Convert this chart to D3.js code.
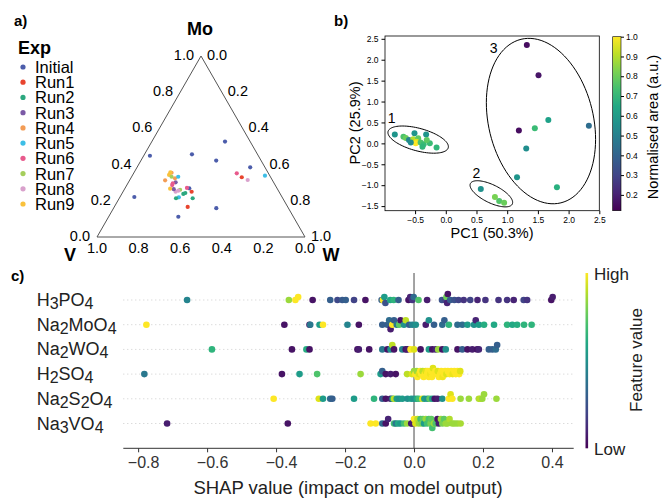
<!DOCTYPE html>
<html>
<head>
<meta charset="utf-8">
<script src="https://cdn.jsdelivr.net/npm/d3@7"></script>
<style>
  body { margin: 0; background: #fff; }
  text { font-family: "Liberation Sans", Arial, sans-serif; }
</style>
</head>
<body>
<div id="chart"></div>
<script>
// ---- data ----
const expNames = ['Initial', 'Run1', 'Run2', 'Run3', 'Run4', 'Run5', 'Run6', 'Run7', 'Run8', 'Run9']
const expColors = ['#4c5dab', '#e8442e', '#2ca87f', '#7b5aa6', '#f39c55', '#3dbee6', '#e85a8c', '#a5ce5c', '#d9a1cc', '#f9c13c']

// [experiment, Mo fraction, W fraction]  (V = 1 - Mo - W)
const ternaryPoints = [
  ['Initial', 0.527, 0.352], ['Initial', 0.449, 0.030], ['Initial', 0.457, 0.228], ['Initial', 0.422, 0.362],
  ['Initial', 0.385, 0.544], ['Initial', 0.221, 0.069], ['Initial', 0.159, 0.494], ['Initial', 0.112, 0.335],
  ['Initial', 0.269, 0.309],
  ['Run6', 0.352, 0.496], ['Run1', 0.330, 0.531], ['Run8', 0.315, 0.567], ['Run5', 0.339, 0.638],
  ['Run1', 0.166, 0.353], ['Run2', 0.214, 0.353], ['Run1', 0.250, 0.330], ['Run6', 0.271, 0.297],
  ['Run2', 0.238, 0.296], ['Run2', 0.243, 0.303], ['Run5', 0.219, 0.284], ['Run2', 0.214, 0.273],
  ['Run7', 0.261, 0.269], ['Run8', 0.256, 0.263], ['Run8', 0.250, 0.253], ['Run3', 0.264, 0.237],
  ['Run9', 0.267, 0.218], ['Run6', 0.287, 0.218], ['Run3', 0.302, 0.227], ['Run4', 0.324, 0.213],
  ['Run5', 0.333, 0.224], ['Run4', 0.355, 0.181], ['Run9', 0.343, 0.175], ['Run7', 0.333, 0.192],
  ['Run4', 0.313, 0.171], ['Run6', 0.297, 0.216], ['Run9', 0.357, 0.174]
]
const ternaryTicks = [0, 0.2, 0.4, 0.6, 0.8, 1.0]

// [PC1, PC2, normalised area]
const pcaPoints = [
  [1.32, 2.35, 0.15], [1.51, 1.63, 0.17], [1.67, 0.56, 0.62], [2.33, 0.42, 0.43], [1.45, 0.36, 0.72],
  [1.19, 0.31, 0.15], [1.31, -0.12, 0.55], [1.16, -0.81, 0.58], [1.81, -1.05, 0.68],
  [0.57, -1.09, 0.56], [0.80, -1.28, 0.82], [0.87, -1.38, 0.76], [0.95, -1.42, 0.80],
  [-0.83, 0.21, 0.58], [-0.51, 0.24, 0.58], [-0.32, 0.21, 0.58], [-0.69, 0.16, 0.75], [-0.65, 0.13, 0.80],
  [-0.60, 0.08, 0.52], [-0.53, 0.10, 0.90], [-0.45, 0.12, 0.78], [-0.48, 0.04, 0.95], [-0.49, 0.00, 1.0],
  [-0.41, 0.02, 0.75], [-0.36, -0.02, 0.72], [-0.38, -0.08, 0.70], [-0.26, 0.00, 0.72], [-0.15, -0.10, 0.70],
  [-0.57, 0.02, 0.55], [-0.31, 0.08, 0.78]
]
const pcaXTicks = [-0.5, 0.0, 0.5, 1.0, 1.5, 2.0, 2.5]
const pcaYTicks = [-1.5, -1.0, -0.5, 0.0, 0.5, 1.0, 1.5, 2.0, 2.5]
const areaTicks = [0.2, 0.3, 0.4, 0.5, 0.6, 0.7, 0.8, 0.9, 1.0]
// cluster ellipses: centre, major half-axis vector, minor half-axis vector (data units)
const clusterEllipses = [
  { label: '1', cx: -0.45, cy: 0.09, ux: 0.49, uy: -0.195, vx: -0.048, vy: -0.26, lx: -0.88, ly: 0.6 },
  { label: '2', cx: 0.742, cy: -1.206, ux: 0.341, uy: -0.246, vx: -0.064, vy: -0.193, lx: 0.5, ly: -0.72 },
  { label: '3', cx: 1.55, cy: 0.533, ux: 0.325, uy: -1.955, vx: -0.828, vy: -0.299, lx: 0.78, ly: 2.28 }
]

// SHAP rows: [shap value, feature value]
const features = ['H3PO4', 'Na2MoO4', 'Na2WO4', 'H2SO4', 'Na2S2O4', 'Na3VO4']
const shapH3PO4 = [[-0.658, 0.45], [-0.363, 0.85], [-0.344, 1.0], [-0.336, 1.0], [-0.294, 0.05], [-0.243, 0.3],
  [-0.222, 0.22], [-0.208, 0.28], [-0.198, 0.3], [-0.174, 0.2], [-0.141, 0.05], [-0.094, 0.3], [-0.090, 1.0],
  [-0.086, 0.55], [-0.083, 0.25], [-0.069, 0.6], [-0.059, 0.65], [-0.045, 0.3], [-0.016, 0.05], [-0.011, 0.1],
  [-0.005, 0.15], [-0.001, 0.35], [0.013, 0.72], [0.038, 0.08], [0.081, 0.25], [0.091, 0.2], [0.094, 0.78],
  [0.096, 0.1], [0.098, 0.05], [0.105, 0.3], [0.117, 0.25], [0.129, 0.2], [0.144, 0.15], [0.163, 0.2],
  [0.184, 0.1], [0.207, 0.15], [0.245, 0.15], [0.270, 0.15], [0.289, 0.1], [0.318, 0.2], [0.328, 0.15],
  [0.398, 0.05], [0.402, 0.08]]
const shapNa2MoO4 = [[-0.776, 1.0], [-0.376, 0.05], [-0.303, 0.05], [-0.301, 0.4], [-0.274, 0.55], [-0.264, 1.0],
  [-0.193, 0.45], [-0.160, 0.05], [-0.092, 0.3], [-0.077, 0.3], [-0.072, 0.35], [-0.068, 0.08], [-0.063, 1.0],
  [-0.058, 0.3], [-0.050, 0.4], [-0.043, 0.75], [-0.039, 0.05], [-0.029, 0.5], [-0.024, 0.9], [-0.014, 0.3],
  [-0.005, 0.45], [0.005, 0.5], [0.034, 0.08], [0.043, 0.5], [0.058, 0.3], [0.082, 0.35], [0.088, 0.3],
  [0.101, 0.65], [0.126, 0.35], [0.140, 0.35], [0.155, 0.55], [0.174, 0.5], [0.179, 0.1], [0.188, 0.55],
  [0.203, 0.62], [0.232, 0.6], [0.270, 0.65], [0.285, 0.6], [0.299, 0.62], [0.319, 0.65], [0.341, 0.65]]
const shapNa2WO4 = [[-0.586, 0.65], [-0.354, 0.05], [-0.312, 0.62], [-0.303, 0.05], [-0.164, 0.05], [-0.160, 0.08],
  [-0.130, 0.05], [-0.092, 0.4], [-0.077, 0.05], [-0.068, 0.5], [-0.063, 0.9], [-0.058, 0.05], [-0.034, 0.45],
  [-0.024, 0.05], [-0.019, 0.08], [-0.010, 1.0], [0.000, 0.95], [0.019, 0.05], [0.043, 0.55], [0.053, 0.05],
  [0.063, 0.1], [0.070, 0.85], [0.082, 0.05], [0.092, 0.5], [0.126, 0.05], [0.140, 0.3], [0.155, 0.05],
  [0.169, 0.08], [0.183, 0.05], [0.188, 0.1], [0.217, 0.3], [0.227, 0.3], [0.237, 0.35], [0.241, 0.3]]
const shapH2SO4 = [[-0.782, 0.4], [-0.383, 0.05], [-0.332, 0.55], [-0.281, 0.72], [-0.155, 0.85], [-0.097, 0.55],
  [-0.092, 0.3], [-0.082, 0.05], [-0.068, 0.08], [-0.053, 0.05], [-0.020, 0.9], [-0.006, 0.95], [0.000, 0.85],
  [0.004, 1.0], [0.008, 0.85], [0.010, 1.0], [0.014, 0.95], [0.018, 1.0], [0.021, 1.0], [0.025, 0.9],
  [0.028, 1.0], [0.031, 1.0], [0.034, 0.95], [0.038, 1.0], [0.040, 1.0], [0.043, 1.0], [0.047, 0.98],
  [0.050, 1.0], [0.052, 1.0], [0.055, 0.95], [0.059, 1.0], [0.062, 1.0], [0.066, 1.0], [0.069, 0.95],
  [0.072, 1.0], [0.076, 1.0], [0.079, 1.0], [0.083, 0.98], [0.087, 1.0], [0.090, 1.0], [0.094, 0.95],
  [0.098, 1.0], [0.103, 1.0], [0.108, 1.0], [0.112, 0.97], [0.117, 1.0], [0.121, 1.0], [0.126, 1.0],
  [0.131, 1.0], [0.134, 0.95]]
const shapNa2S2O4 = [[-0.407, 1.0], [-0.276, 0.95], [-0.264, 0.55], [-0.243, 0.35], [-0.237, 0.3], [-0.174, 0.55],
  [-0.116, 0.65], [-0.092, 0.3], [-0.082, 0.05], [-0.068, 0.08], [-0.062, 0.6], [-0.058, 0.9], [-0.050, 0.55],
  [-0.043, 0.5], [-0.034, 0.55], [-0.019, 0.5], [-0.008, 0.55], [0.000, 0.5], [0.008, 0.6], [0.014, 0.7],
  [0.024, 0.95], [0.030, 0.55], [0.039, 0.5], [0.045, 0.75], [0.053, 0.55], [0.060, 0.05], [0.068, 0.08],
  [0.082, 0.5], [0.101, 1.0], [0.106, 0.95], [0.111, 1.0], [0.135, 0.85], [0.159, 0.85], [0.188, 0.88],
  [0.193, 0.9], [0.198, 0.85], [0.203, 0.85], [0.239, 0.85]]
const shapNa3VO4 = [[-0.716, 0.08], [-0.366, 0.05], [-0.126, 1.0], [-0.111, 1.0], [-0.092, 0.35], [-0.082, 0.05],
  [-0.075, 0.1], [-0.058, 0.7], [-0.053, 0.4], [-0.046, 0.6], [-0.039, 0.55], [-0.029, 0.7], [-0.020, 0.85],
  [-0.008, 0.05], [-0.005, 0.08], [0.000, 1.0], [0.004, 0.95], [0.010, 0.9], [0.014, 0.85], [0.019, 0.7],
  [0.023, 0.8], [0.026, 0.75], [0.029, 0.55], [0.034, 0.85], [0.038, 0.7], [0.043, 0.72], [0.048, 0.8],
  [0.050, 0.75], [0.053, 0.7], [0.058, 0.85], [0.063, 0.72], [0.068, 0.05], [0.072, 0.08], [0.078, 0.85],
  [0.082, 0.8], [0.087, 0.75], [0.092, 0.85], [0.097, 0.85], [0.103, 0.88], [0.111, 0.85], [0.118, 0.85],
  [0.126, 0.85], [0.135, 0.87]]
const shapRows = [shapH3PO4, shapNa2MoO4, shapNa2WO4, shapH2SO4, shapNa2S2O4, shapNa3VO4]
const shapTicks = [-0.8, -0.6, -0.4, -0.2, 0.0, 0.2, 0.4]

// ---- chart ----
const width = 664
const height = 499

const svg = d3.select('#chart').append('svg')
  .attr('width', width)
  .attr('height', height)

svg.append('rect').attr('width', width).attr('height', height).attr('fill', '#fff')

const fmt1 = d3.format('.1f')

// ===== a) ternary =====
const ga = svg.append('g')
const tx = d3.scaleLinear().domain([0, 1]).range([97, 305])
const ty = d3.scaleLinear().domain([0, 1]).range([237, 56])
const tern = (mo, w) => [tx(w + mo / 2), ty(mo)]

ga.append('path')
  .attr('d', d3.line()([tern(1, 0), tern(0, 0), tern(0, 1)]) + 'Z')
  .attr('fill', 'none').attr('stroke', '#555').attr('stroke-width', 1)

// Mo ticks on left edge
ga.selectAll('.tl').data(ternaryTicks).enter().append('text')
  .attr('x', d => tern(d, 0)[0] - 7)
  .attr('y', d => tern(d, 0)[1] - 1)
  .attr('text-anchor', 'end').attr('dominant-baseline', 'central')
  .attr('font-size', 14.5).text(fmt1)
// W ticks on right edge
ga.selectAll('.tr').data(ternaryTicks).enter().append('text')
  .attr('x', d => tern(1 - d, d)[0] + 6)
  .attr('y', d => tern(1 - d, d)[1] - 1)
  .attr('dominant-baseline', 'central')
  .attr('font-size', 14.5).text(fmt1)
// V ticks on base
ga.selectAll('.tb').data(ternaryTicks).enter().append('text')
  .attr('x', d => tern(0, 1 - d)[0])
  .attr('y', d => tern(0, 1 - d)[1] + 16)
  .attr('text-anchor', 'middle')
  .attr('font-size', 14.5).text(fmt1)

ga.append('text').attr('x', 200).attr('y', 35).attr('text-anchor', 'middle')
  .attr('font-size', 18).attr('font-weight', 'bold').text('Mo')
ga.append('text').attr('x', 70).attr('y', 261).attr('text-anchor', 'middle')
  .attr('font-size', 18).attr('font-weight', 'bold').text('V')
ga.append('text').attr('x', 331).attr('y', 261).attr('text-anchor', 'middle')
  .attr('font-size', 18).attr('font-weight', 'bold').text('W')

const expColor = d3.scaleOrdinal().domain(expNames).range(expColors)

ga.selectAll('.tp').data(ternaryPoints).enter().append('circle')
  .attr('cx', d => tern(d[1], d[2])[0])
  .attr('cy', d => tern(d[1], d[2])[1])
  .attr('r', 2.1)
  .attr('fill', d => expColor(d[0]))

// legend
ga.append('text').attr('x', 18).attr('y', 54).attr('font-size', 18).attr('font-weight', 'bold').text('Exp')
const legY = d3.scalePoint().domain(expNames).range([67, 204])
const leg = ga.selectAll('.leg').data(expNames).enter().append('g')
  .attr('transform', d => `translate(0,${legY(d)})`)
leg.append('circle').attr('cx', 23).attr('cy', 0).attr('r', 2.6).attr('fill', d => expColor(d))
leg.append('text').attr('x', 35).attr('y', 0).attr('dominant-baseline', 'central')
  .attr('font-size', 16.5).text(d => d)

svg.append('text').attr('x', 14).attr('y', 26).attr('font-size', 15).attr('font-weight', 'bold').text('a)')

// ===== b) PCA =====
const gb = svg.append('g')
const px = d3.scaleLinear().domain([-0.99, 2.5]).range([385, 599.3])
const py = d3.scaleLinear().domain([-1.61, 2.567]).range([210.7, 36])
const areaScale = d3.scaleSequential(d3.interpolateViridis).domain([0.12, 1.0])

gb.append('g').attr('transform', 'translate(0,210.7)')
  .call(d3.axisBottom(px).tickValues(pcaXTicks).tickFormat(fmt1).tickSize(3.5).tickPadding(3))
  .call(g => g.select('.domain').remove())
  .selectAll('text').attr('font-family', 'DejaVu Sans').attr('font-size', 8.5).attr('fill', '#000')
gb.append('g').attr('transform', 'translate(385,0)')
  .call(d3.axisLeft(py).tickValues(pcaYTicks).tickFormat(fmt1).tickSize(3.5).tickPadding(3))
  .call(g => g.select('.domain').remove())
  .selectAll('text').attr('font-family', 'DejaVu Sans').attr('font-size', 8.5).attr('fill', '#000')

gb.selectAll('.pp').data(pcaPoints).enter().append('circle')
  .attr('cx', d => px(d[0]))
  .attr('cy', d => py(d[1]))
  .attr('r', 3)
  .attr('fill', d => areaScale(d[2]))

const ellLine = d3.line().x(d => px(d[0])).y(d => py(d[1]))
clusterEllipses.forEach(e => {
  const pts = d3.range(0, 101).map(i => {
    const t = i / 100 * 2 * Math.PI
    return [e.cx + e.ux * Math.cos(t) + e.vx * Math.sin(t), e.cy + e.uy * Math.cos(t) + e.vy * Math.sin(t)]
  })
  gb.append('path').attr('d', ellLine(pts)).attr('fill', 'none').attr('stroke', '#000').attr('stroke-width', 1)
  gb.append('text').attr('x', px(e.lx)).attr('y', py(e.ly)).attr('text-anchor', 'middle')
    .attr('dominant-baseline', 'central').attr('font-size', 14).text(e.label)
})

gb.append('rect').attr('x', 385).attr('y', 36).attr('width', 599.3 - 385).attr('height', 210.7 - 36)
  .attr('fill', 'none').attr('stroke', '#000').attr('stroke-width', 0.8)

gb.append('text').attr('x', 492).attr('y', 238).attr('text-anchor', 'middle').attr('font-size', 14.5).text('PC1 (50.3%)')
gb.append('text').attr('transform', 'translate(360,123) rotate(-90)').attr('text-anchor', 'middle')
  .attr('font-size', 14.5).text('PC2 (25.9%)')

// colorbar b
const defs = svg.append('defs')
const gradB = defs.append('linearGradient').attr('id', 'viridisV').attr('x1', 0).attr('y1', 1).attr('x2', 0).attr('y2', 0)
d3.range(0, 11).forEach(i => {
  gradB.append('stop').attr('offset', i / 10).attr('stop-color', d3.interpolateViridis(i / 10))
})
const cbY = d3.scaleLinear().domain([0.12, 1.0]).range([210.7, 36.7])
gb.append('rect').attr('x', 612.7).attr('y', 36.7).attr('width', 8.3).attr('height', 210.7 - 36.7)
  .attr('fill', 'url(#viridisV)').attr('stroke', '#000').attr('stroke-width', 0.6)
gb.append('g').attr('transform', 'translate(621,0)')
  .call(d3.axisRight(cbY).tickValues(areaTicks).tickFormat(fmt1).tickSize(3).tickPadding(2))
  .call(g => g.select('.domain').remove())
  .selectAll('text').attr('font-family', 'DejaVu Sans').attr('font-size', 8.5).attr('fill', '#000')
gb.append('text').attr('transform', 'translate(658,127) rotate(-90)').attr('text-anchor', 'middle')
  .attr('font-size', 14.5).text('Normalised area (a.u.)')

svg.append('text').attr('x', 334).attr('y', 26).attr('font-size', 15).attr('font-weight', 'bold').text('b)')

// ===== c) SHAP summary =====
const gc = svg.append('g')
const sx = d3.scaleLinear().domain([-0.843, 0.463]).range([123.3, 573.7])
const sy = d3.scalePoint().domain(features).range([300, 423.5])
const rowStep = sy.step()
const featColor = d3.scaleSequential(d3.interpolateViridis).domain([0, 1])

// dotted row guides
gc.selectAll('.grid').data(features).enter().append('line')
  .attr('x1', 123.3).attr('x2', 573.7)
  .attr('y1', d => sy(d)).attr('y2', d => sy(d))
  .attr('stroke', '#ccc').attr('stroke-width', 1).attr('stroke-dasharray', '1,3')

// zero line
gc.append('line').attr('x1', sx(0)).attr('x2', sx(0)).attr('y1', 273).attr('y2', 448.3)
  .attr('stroke', '#999').attr('stroke-width', 1.8)

// beeswarm offsets (shap-style binning)
shapRows.forEach((row, ri) => {
  const vals = row.map(d => d[0])
  const lo = d3.min(vals), hi = d3.max(vals)
  const nbins = 100
  const quant = vals.map(v => Math.round(nbins * (v - lo) / (hi - lo + 1e-8)))
  const inds = d3.range(row.length).sort((a, b) => quant[a] - quant[b] || a - b)
  const ys = new Array(row.length).fill(0)
  let layer = 0, last = -1
  inds.forEach(i => {
    if (quant[i] !== last) layer = 0
    ys[i] = Math.ceil(layer / 2) * ((layer % 2) * 2 - 1)
    layer += 1
    last = quant[i]
  })
  const maxY = d3.max(ys.map(y => y + 1))
  const k = 0.9 * 0.4 / maxY
  const cy0 = sy(features[ri])
  gc.selectAll('.r' + ri).data(row).enter().append('circle')
    .attr('cx', d => sx(d[0]))
    .attr('cy', (d, i) => cy0 - ys[i] * k * rowStep)
    .attr('r', 3.3)
    .attr('fill', d => featColor(d[1]))
})

// row labels with subscripts
gc.selectAll('.fl').data(features).enter().append('text')
  .attr('x', 36.7).attr('y', d => sy(d) + 6)
  .attr('font-size', 18).attr('fill', '#222')
  .each(function (d) {
    const t = d3.select(this)
    let low = false
    d.match(/[A-Za-z]+|\d+/g).forEach(part => {
      const isSub = /\d/.test(part)
      const shift = isSub === low ? 0 : (isSub ? 3 : -3)
      t.append('tspan').attr('dy', shift).attr('font-size', isSub ? 16 : 18).text(part)
      low = isSub
    })
  })

// x axis
gc.append('g').attr('transform', 'translate(0,448.3)')
  .call(d3.axisBottom(sx).tickValues(shapTicks).tickFormat(fmt1).tickSize(4).tickPadding(4))
  .call(g => g.select('.domain').attr('d', 'M123.3,0H573.7').attr('stroke', '#333'))
  .call(g => g.selectAll('line').attr('stroke', '#333'))
  .selectAll('text').attr('font-family', '"Liberation Sans", Arial').attr('font-size', 16).attr('fill', '#333')
  .attr('dx', d => d < 0 ? 5 : 0)

gc.append('text').attr('x', 348).attr('y', 494).attr('text-anchor', 'middle')
  .attr('font-size', 18.5).attr('fill', '#222').text('SHAP value (impact on model output)')

// colorbar c
const gradC = defs.append('linearGradient').attr('id', 'viridisC').attr('x1', 0).attr('y1', 1).attr('x2', 0).attr('y2', 0)
d3.range(0, 11).forEach(i => {
  gradC.append('stop').attr('offset', i / 10).attr('stop-color', d3.interpolateViridis(i / 10))
})
gc.append('rect').attr('x', 585.5).attr('y', 273).attr('width', 2.6).attr('height', 448.3 - 273)
  .attr('fill', 'url(#viridisC)')
gc.append('text').attr('x', 594).attr('y', 274).attr('dominant-baseline', 'central')
  .attr('font-size', 17).attr('fill', '#222').text('High')
gc.append('text').attr('x', 594).attr('y', 449).attr('dominant-baseline', 'central')
  .attr('font-size', 17).attr('fill', '#222').text('Low')
gc.append('text').attr('transform', 'translate(642,360) rotate(-90)').attr('text-anchor', 'middle')
  .attr('font-size', 17).attr('fill', '#222').text('Feature value')

svg.append('text').attr('x', 11).attr('y', 281).attr('font-size', 15).attr('font-weight', 'bold').text('c)')
</script>
</body>
</html>
